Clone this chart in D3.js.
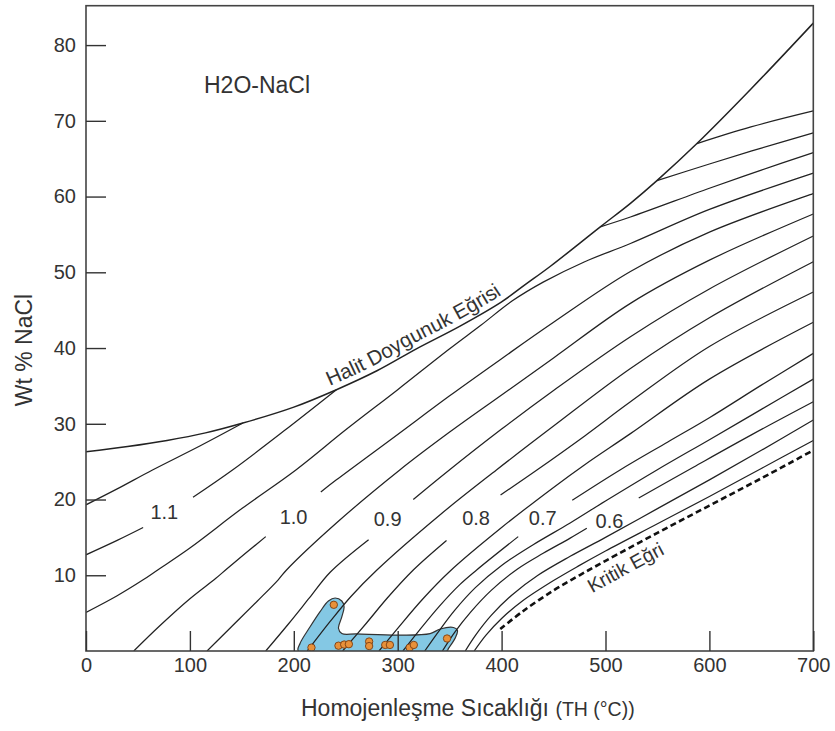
<!DOCTYPE html>
<html><head><meta charset="utf-8">
<script src="https://cdn.jsdelivr.net/npm/d3@7"></script>
<style>
body{margin:0;background:#fff}
svg{display:block}
text{font-family:"Liberation Sans",Arial,Helvetica,sans-serif;fill:#333}
</style>
</head><body>
<svg id="chart" width="835" height="731"></svg>
<script>
// ---------------- data ----------------
const xTicks = [0,100,200,300,400,500,600,700];
const yTicks = [10,20,30,40,50,60,70,80];

// halite saturation curve (T degC, wt% NaCl)
const halite = [[0,26.3],[40,27.0],[78,27.8],[115,28.8],[151,30.1],[200,32.2],[241,34.5],[280,37.0],[318,39.9],[360,42.9],[400,46.1],[423,48.4],[447,50.8],[495,56.0],[524,59.1],[549.5,62.1],[588,67.0],[640,74.2],[700,82.9]];
// critical curve (dashed)
const critical = [[398.7,2.9],[420,5.2],[450,8.0],[475,10.0],[500,11.9],[550,15.6],[600,19.2],[650,22.8],[700,26.5]];

// isochores (g/cm3)
const iso115 = [[0,19.3],[30,21.4],[64,23.9],[110,27.1],[151,30.1]];
const iso110 = [[0,12.7],[30,14.6],[55,16.3],[103,20.3],[141,23.9],[190,29.0],[241,34.5]];
const iso105 = [[0,5.1],[30,7.3],[55,9.4],[69,10.7],[100,13.6],[150,18.8],[202,23.9],[250,29.2],[300,34.5],[350,39.9],[380,43.0],[410,46.2],[440,48.7],[480,51.4],[524,53.8],[600,58.3],[700,63.1]];
const iso100 = [[46,0],[70,3.2],[100,6.9],[125,9.6],[136,10.9],[173,15.1],[226,21.0],[241,22.6],[300,28.6],[350,33.7],[400,38.6],[450,43.4],[524,50.1],[600,55.3],[700,60.4]];
const iso095 = [[116.5,0],[140,3.2],[165,6.6],[185,9.4],[193,10.7],[241,16.9],[302,23.9],[350,28.9],[400,33.8],[450,38.7],[524,45.9],[600,51.6],[700,57.7]];
const iso090 = [[173,0],[195,3.6],[215,7.0],[235,10.4],[272,14.7],[315,20.0],[347,23.6],[400,29.3],[450,34.4],[524,41.5],[600,47.8],[700,54.8]];
const iso085 = [[213,0],[235,3.9],[255,7.2],[280,10.7],[340,17.9],[395,23.9],[450,29.7],[524,37.3],[600,44.0],[700,51.4]];
const iso080 = [[247,0],[270,3.7],[290,7.0],[315,10.7],[347,14.6],[399,20.6],[434,23.9],[480,28.4],[524,32.9],[600,40.2],[700,47.4]];
const iso075 = [[282,0],[300,3.0],[325,7.0],[350,10.5],[400,16.3],[450,21.6],[480,24.6],[524,28.7],[600,35.9],[700,43.4]];
const iso070 = [[305,0],[320,2.6],[340,5.9],[360,8.8],[376,10.7],[416,15.1],[468,19.9],[514,23.9],[560,27.6],[600,30.8],[650,35.1],[700,39.3]];
const iso065 = [[326,0],[340,2.7],[355,5.4],[375,8.4],[400,11.3],[430,14.0],[466,16.9],[500,19.8],[549.5,23.9],[600,27.9],[650,31.9],[700,35.9]];
const iso060 = [[343,0],[355,2.5],[370,5.1],[390,8.0],[415,10.8],[440,12.9],[466,14.9],[482,16.2],[532,20.2],[585,24.3],[640,28.5],[700,32.9]];
const iso055 = [[365,0],[375,2.1],[390,4.7],[410,7.4],[435,10.0],[466,12.5],[500,15.0],[550,18.8],[600,22.6],[650,26.5],[700,30.5]];
const iso050 = [[373.6,0],[385,2.1],[400,4.3],[420,6.6],[450,9.3],[475,11.3],[500,13.2],[550,16.8],[600,20.4],[650,24.1],[700,27.8]];
// isochores starting on the halite curve
const sat1 = [[588,67.0],[640,69.2],[700,71.3]];
const sat2 = [[549.5,62.1],[600,64.3],[650,66.4],[700,68.4]];
const sat3 = [[495,56.0],[524,57.3],[600,61.1],[650,63.5],[700,65.8]];

const isochores = [iso115, iso110, iso105, iso100, iso095, iso090, iso085, iso080, iso075, iso070, iso065, iso060, iso055, iso050, sat1, sat2, sat3];

// isochore labels
const labelText = ["1.1","1.0","0.9","0.8","0.7","0.6"];
const labelLine = [iso110, iso100, iso090, iso080, iso070, iso060];
const labelT    = [75.4, 199.8, 290.3, 375.4, 439.6, 503.8];
const labelWt   = [18.4, 17.7, 17.5, 17.6, 17.6, 17.2];
const gapT0     = [55, 173, 272, 347, 416, 482];
const gapT1     = [103, 226, 315, 399, 468, 532];

// fluid inclusion field outline and measurements
const incField = [[204.4,0],[206,1.0],[215.7,3.2],[225.3,5.2],[233.3,6.6],[239.8,7.0],[246.2,6.6],[248.4,5.85],[246.2,4.5],[243,3.0],[246.2,2.3],[260.6,2.25],[302.3,2.1],[331.2,2.3],[340.9,2.9],[353.7,3.1],[357.5,2.7],[355.3,1.7],[348.9,0.35],[347.3,0]];
const incT  = [238.5,217,243,248.5,253,272.5,272.5,288,292.5,311.5,315.5,347.5];
const incWt = [6.1,0.45,0.7,0.85,0.9,1.25,0.65,0.8,0.8,0.45,0.8,1.65];

// ---------------- drawing ----------------
const svg = d3.select("#chart");
const x = d3.scaleLinear().domain([0,700]).range([86,813.3]);
const y = d3.scaleLinear().domain([0,85.2]).range([651,5.7]);

svg.append("defs").append("clipPath").attr("id","plotClip")
  .append("rect").attr("x",86).attr("y",5.7).attr("width",727.3).attr("height",645.3);

const line = d3.line().x(d=>x(d[0])).y(d=>y(d[1])).curve(d3.curveCatmullRom.alpha(0.5));
const plot = svg.append("g").attr("clip-path","url(#plotClip)");

// inclusion field
plot.append("path")
  .attr("d", d3.line().x(d=>x(d[0])).y(d=>y(d[1])).curve(d3.curveCatmullRomClosed.alpha(0.5))(incField))
  .attr("fill","#84c8e4").attr("stroke","#333").attr("stroke-width",1.2);

// isochores
isochores.forEach(pts=>{
  const li = labelLine.indexOf(pts);
  const parts = li<0 ? [pts] : [pts.filter(p=>p[0]<=gapT0[li]), pts.filter(p=>p[0]>=gapT1[li])];
  parts.forEach(seg=>{
    plot.append("path").attr("d", line(seg)).attr("fill","none")
      .attr("stroke","#222").attr("stroke-width",1.25);
  });
});

// halite curve
const halPath = plot.append("path").attr("id","halPath").attr("d", line(halite))
  .attr("fill","none").attr("stroke","#222").attr("stroke-width",1.5);
// critical curve
const critPath = plot.append("path").attr("id","critPath").attr("d", line(critical))
  .attr("fill","none").attr("stroke","#111").attr("stroke-width",2.6).attr("stroke-dasharray","6,3.5");

// inclusion points
plot.selectAll("circle.inc").data(incT).join("circle").attr("class","inc")
  .attr("cx",(d)=>x(d)).attr("cy",(d,i)=>y(incWt[i])).attr("r",3.7)
  .attr("fill","#e8913a").attr("stroke","#7a3d12").attr("stroke-width",0.9);

// frame
svg.append("rect").attr("x",86).attr("y",5.7).attr("width",727.3).attr("height",645.3)
  .attr("fill","none").attr("stroke","#444").attr("stroke-width",1.6);

// axes
const xAxis = d3.axisBottom(x).tickValues(xTicks).tickSizeInner(-20).tickSizeOuter(0).tickPadding(7).tickFormat(d3.format("d"));
const gx = svg.append("g").attr("transform","translate(0,651)").call(xAxis);
const yAxis = d3.axisLeft(y).tickValues(yTicks).tickSizeInner(-20).tickSizeOuter(0).tickPadding(10).tickFormat(d3.format("d"));
const gy = svg.append("g").attr("transform","translate(86,0)").call(yAxis);
[gx,gy].forEach(g=>{
  g.select(".domain").remove();
  g.selectAll(".tick line").attr("stroke","#333").attr("stroke-width",1.4);
  g.selectAll(".tick text").attr("font-size",20).attr("fill","#333")
    .style("font-family","'Liberation Sans',Arial,sans-serif");
});

// isochore labels
labelText.forEach((t,i)=>{
  svg.append("text").attr("x",x(labelT[i])).attr("y",y(labelWt[i])).attr("dy","0.36em")
    .attr("text-anchor","middle").attr("font-size",20).text(t);
});

// curve labels on paths
function lengthAtT(node,T){
  const px=x(T); let lo=0, hi=node.getTotalLength();
  for(let k=0;k<40;k++){const m=(lo+hi)/2; if(node.getPointAtLength(m).x<px) lo=m; else hi=m;}
  return lo;
}
svg.append("text").attr("font-size",20.5).attr("dy",-6)
  .append("textPath").attr("href","#halPath")
  .attr("startOffset", lengthAtT(halPath.node(),321))
  .attr("text-anchor","middle").text("Halit Doygunuk Eğrisi");
svg.append("text").attr("font-size",19.5).attr("dy",22)
  .append("textPath").attr("href","#critPath")
  .attr("startOffset", lengthAtT(critPath.node(),512))
  .attr("text-anchor","middle").text("Kritik Eğri");

// titles
svg.append("text").attr("x",204).attr("y",93).attr("font-size",23).text("H2O-NaCl");
svg.append("text").attr("transform","translate(32,350) rotate(-90)").attr("text-anchor","middle")
  .attr("font-size",23).text("Wt % NaCl");
const xt = svg.append("text").attr("x",301).attr("y",716).attr("font-size",23);
xt.append("tspan").text("Homojenleşme Sıcaklığı ");
xt.append("tspan").attr("font-size",19.5).text("(TH (°C))");
</script>
</body></html>
